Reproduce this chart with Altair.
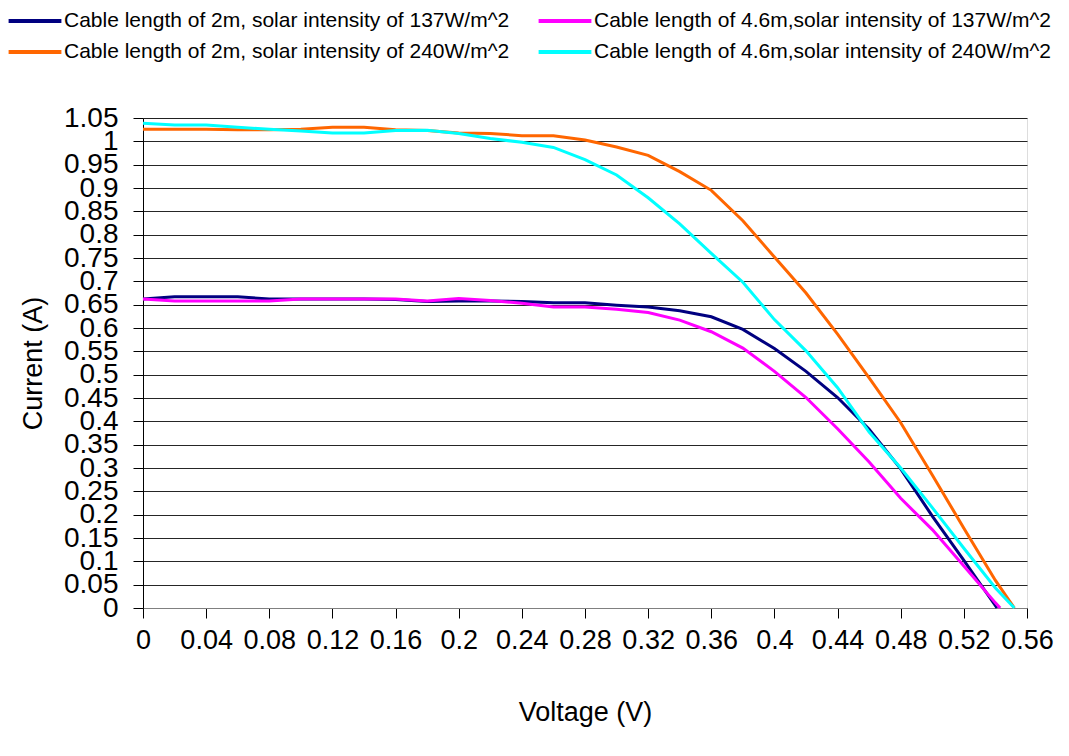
import altair as alt
import pandas as pd

series_names = [
    "Cable length of 2m, solar intensity of 137W/m^2",
    "Cable length of 4.6m,solar intensity of 137W/m^2",
    "Cable length of 2m, solar intensity of 240W/m^2",
    "Cable length of 4.6m,solar intensity of 240W/m^2",
]
series_colors = ["#000080", "#FF00FF", "#FF6600", "#00FFFF"]
# legend is laid out column by column: this order gives the reference's rows
legend_order = [0, 2, 1, 3]

voltage_2m_137 = [0, 0.02, 0.04, 0.06, 0.08, 0.10, 0.12, 0.14, 0.16, 0.18, 0.20, 0.22, 0.24, 0.26,
                  0.28, 0.30, 0.32, 0.34, 0.36, 0.38, 0.40, 0.42, 0.44, 0.46, 0.48, 0.50, 0.52, 0.541]
current_2m_137 = [0.662, 0.667, 0.667, 0.667, 0.662, 0.662, 0.662, 0.662, 0.661, 0.657, 0.658, 0.658, 0.657, 0.654,
                  0.654, 0.649, 0.645, 0.637, 0.624, 0.597, 0.556, 0.507, 0.451, 0.383, 0.298, 0.197, 0.102, 0.0]

voltage_46m_137 = [0, 0.02, 0.04, 0.06, 0.08, 0.10, 0.12, 0.14, 0.16, 0.18, 0.20, 0.22, 0.24, 0.26,
                   0.28, 0.30, 0.32, 0.34, 0.36, 0.38, 0.40, 0.42, 0.44, 0.46, 0.48, 0.50, 0.52, 0.54, 0.543]
current_46m_137 = [0.662, 0.658, 0.658, 0.658, 0.658, 0.662, 0.662, 0.662, 0.662, 0.658, 0.663, 0.659, 0.653, 0.645,
                   0.645, 0.640, 0.633, 0.617, 0.592, 0.557, 0.507, 0.451, 0.384, 0.313, 0.235, 0.168, 0.090, 0.011, 0.0]

voltage_2m_240 = [0, 0.02, 0.04, 0.06, 0.08, 0.10, 0.12, 0.14, 0.16, 0.18, 0.20, 0.22, 0.24, 0.26,
                  0.28, 0.30, 0.32, 0.34, 0.36, 0.38, 0.40, 0.42, 0.44, 0.46, 0.48, 0.50, 0.52, 0.54, 0.552]
current_2m_240 = [1.026, 1.026, 1.026, 1.025, 1.025, 1.026, 1.030, 1.030, 1.025, 1.023, 1.018, 1.017, 1.012, 1.012,
                  1.003, 0.988, 0.970, 0.935, 0.895, 0.830, 0.752, 0.675, 0.587, 0.493, 0.397, 0.285, 0.171, 0.059, 0.0]

voltage_46m_240 = [0, 0.02, 0.04, 0.06, 0.08, 0.10, 0.12, 0.14, 0.16, 0.18, 0.20, 0.22, 0.24, 0.26,
                   0.28, 0.30, 0.32, 0.34, 0.36, 0.38, 0.40, 0.42, 0.44, 0.46, 0.48, 0.50, 0.52, 0.54, 0.552]
current_46m_240 = [1.039, 1.035, 1.035, 1.030, 1.026, 1.022, 1.018, 1.018, 1.023, 1.024, 1.017, 1.006, 0.998, 0.987,
                   0.961, 0.928, 0.879, 0.823, 0.760, 0.698, 0.618, 0.551, 0.472, 0.377, 0.300, 0.215, 0.128, 0.043, 0.0]

x_ticks = [0, 0.04, 0.08, 0.12, 0.16, 0.2, 0.24, 0.28, 0.32, 0.36, 0.4, 0.44, 0.48, 0.52, 0.56]
y_ticks = [0, 0.05, 0.1, 0.15, 0.2, 0.25, 0.3, 0.35, 0.4, 0.45, 0.5, 0.55, 0.6, 0.65, 0.7,
           0.75, 0.8, 0.85, 0.9, 0.95, 1, 1.05]

all_v = [voltage_2m_137, voltage_46m_137, voltage_2m_240, voltage_46m_240]
all_i = [current_2m_137, current_46m_137, current_2m_240, current_46m_240]
rows = []
for name, vs, cs in zip(series_names, all_v, all_i):
    for k, (v, c) in enumerate(zip(vs, cs)):
        rows.append({"series": name, "V": v, "I": c, "k": k})
df = pd.DataFrame(rows)

FONT = "Liberation Sans"

chart = alt.Chart(df).mark_line(strokeWidth=3).encode(
    x=alt.X("V:Q",
            scale=alt.Scale(domain=[0, 0.56], nice=False, zero=False),
            axis=alt.Axis(values=x_ticks, format=".2~f", title="Voltage (V)", grid=False,
                          labelFont=FONT, labelFontSize=27, labelColor="#000",
                          labelPadding=9, tickSize=10, tickColor="#000",
                          domainColor="#808080", labelOverlap=False, labelFlush=False,
                          titleFont=FONT, titleFontSize=27, titleFontWeight="normal",
                          titleColor="#000", titlePadding=46)),
    y=alt.Y("I:Q",
            scale=alt.Scale(domain=[0, 1.05], nice=False, zero=True),
            axis=alt.Axis(values=y_ticks, format=".2~f", title="Current (A)", grid=True,
                          gridColor="#000", gridWidth=1, gridOpacity=0.85,
                          labelFont=FONT, labelFontSize=28, labelColor="#000",
                          labelPadding=15, tickSize=10, tickColor="#000",
                          domainColor="#000", labelOverlap=False, labelFlush=False,
                          titleFont=FONT, titleFontSize=27, titleFontWeight="normal",
                          titleColor="#000", titlePadding=16)),
    color=alt.Color("series:N",
                    scale=alt.Scale(domain=[series_names[j] for j in legend_order],
                                    range=[series_colors[j] for j in legend_order]),
                    legend=alt.Legend(orient="none", legendX=-121, legendY=-110,
                                      columns=2, title=None, symbolType="M-2.4,0L2.4,0",
                                      symbolSize=484, symbolStrokeWidth=4,
                                      labelFont=FONT, labelFontSize=21, labelColor="#000",
                                      labelLimit=600, labelOffset=16, columnPadding=20,
                                      rowPadding=8, padding=0)),
    order=alt.Order("k:Q"),
).properties(
    width=884,
    height=490,
    autosize=alt.AutoSizeParams(type="none"),
    padding={"left": 135, "top": 110, "right": 34, "bottom": 130},
).configure_view(stroke=None).configure(background="white")

chart.save("out.html", embed_options={"renderer": "svg", "actions": False})
